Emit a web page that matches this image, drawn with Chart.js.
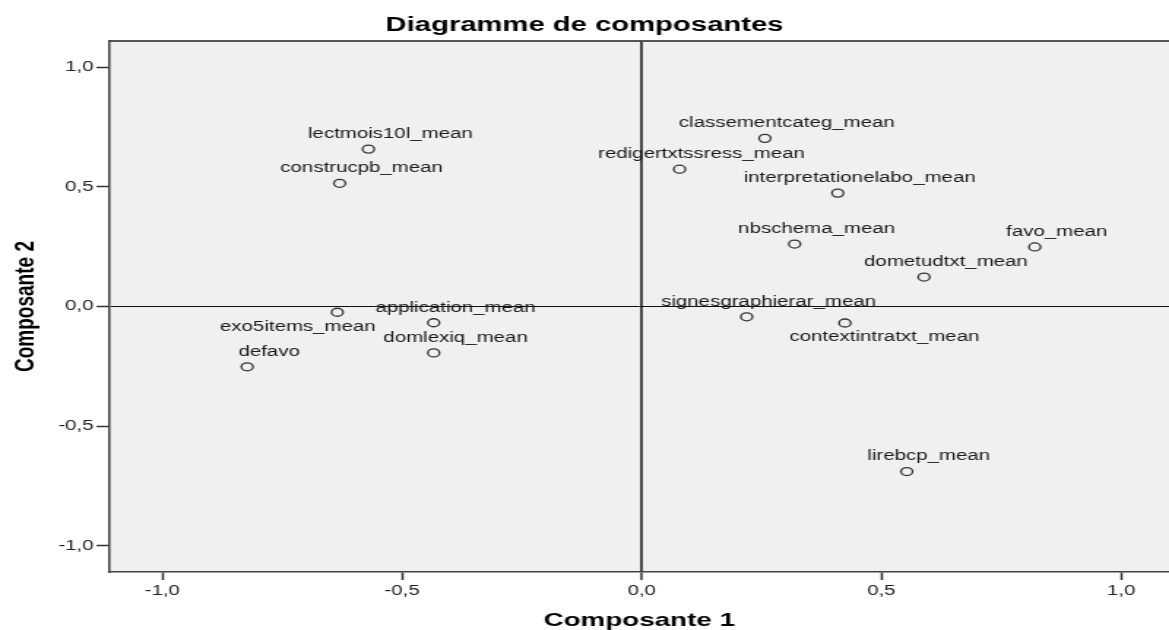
<!DOCTYPE html>
<html>
<head>
<meta charset="utf-8">
<script src="https://cdn.jsdelivr.net/npm/chart.js@4.4.1/dist/chart.umd.min.js"></script>
<style>
  html, body { margin: 0; padding: 0; background: #fff; overflow: hidden; }
  /* the SPSS export is stretched sideways, so draw narrow and widen */
  #wrap { position: absolute; left: 0; top: 0; width: 800px; height: 630px;
          transform: scaleX(1.46125); transform-origin: 0 0; }
</style>
</head>
<body>
<div id="wrap"><canvas id="chart"></canvas></div>
<script>
const variables = [
  'lectmois10l_mean', 'construcpb_mean', 'classementcateg_mean', 'redigertxtssress_mean',
  'interpretationelabo_mean', 'nbschema_mean', 'favo_mean', 'dometudtxt_mean',
  'signesgraphierar_mean', 'contextintratxt_mean', 'application_mean', 'domlexiq_mean',
  'exo5items_mean', 'defavo', 'lirebcp_mean'
];
const comp1 = [-0.570, -0.630, 0.257, 0.079, 0.409, 0.319, 0.820, 0.589, 0.219, 0.424, -0.434, -0.434, -0.635, -0.823, 0.553];
const comp2 = [0.658, 0.515, 0.703, 0.574, 0.474, 0.261, 0.249, 0.123, -0.043, -0.069, -0.068, -0.194, -0.024, -0.252, -0.690];
const tickValues = [-1, -0.5, 0, 0.5, 1];

// most labels sit above and a bit right of their point, these two go below
const labelShift = { exo5items_mean: [-27, 15], contextintratxt_mean: [27, 14] };

const fmt = v => v.toFixed(1).replace('.', ',');

const plotBg = {
  id: 'plotBg',
  beforeDraw(chart) {
    const { ctx, chartArea: a } = chart;
    ctx.save();
    ctx.fillStyle = '#f0f0f0';
    ctx.fillRect(a.left, a.top, a.right - a.left, a.bottom - a.top);
    ctx.strokeStyle = '#555';
    ctx.lineWidth = 2;
    ctx.beginPath();
    ctx.moveTo(a.left, a.top);
    ctx.lineTo(a.right, a.top);
    ctx.stroke();
    ctx.restore();
  }
};

const pointLabels = {
  id: 'pointLabels',
  afterDatasetsDraw(chart) {
    const ctx = chart.ctx;
    const meta = chart.getDatasetMeta(0);
    ctx.save();
    ctx.font = '14px "Liberation Sans", Arial, sans-serif';
    ctx.fillStyle = '#1a1a1a';
    ctx.textAlign = 'center';
    ctx.textBaseline = 'middle';
    meta.data.forEach((pt, i) => {
      const name = variables[i];
      const [dx, dy] = labelShift[name] || [15, -15];
      ctx.fillText(name, pt.x + dx, pt.y + dy);
    });
    ctx.restore();
  }
};

const zeroLine = (w, col) => ({
  color: c => c.tick && c.tick.value === 0 ? col : 'rgba(0,0,0,0)',
  lineWidth: c => c.tick && c.tick.value === 0 ? w : 1,
});

new Chart(document.getElementById('chart'), {
  type: 'scatter',
  data: {
    datasets: [{
      data: comp1.map((x, i) => ({ x: x, y: comp2[i] })),
      pointRadius: 4,
      pointHoverRadius: 4,
      borderWidth: 1.3,
      borderColor: '#333',
      backgroundColor: 'rgba(0,0,0,0)'
    }]
  },
  options: {
    responsive: true,
    maintainAspectRatio: false,
    animation: false,
    layout: { padding: 0, autoPadding: false },
    plugins: {
      legend: { display: false },
      tooltip: { enabled: false },
      title: {
        display: true,
        text: 'Diagramme de composantes',
        color: '#000',
        font: { family: '"Liberation Sans", Arial, sans-serif', size: 20, weight: 'bold' },
        padding: { top: 13, bottom: 4 }
      }
    },
    scales: {
      x: {
        type: 'linear',
        min: -1.11,
        max: 1.10,
        afterBuildTicks: s => { s.ticks = tickValues.map(v => ({ value: v })); },
        afterFit: s => { s.height = 58; s.paddingLeft = 0; s.paddingRight = 0; },
        ticks: {
          callback: fmt,
          color: '#222',
          padding: 3,
          maxRotation: 0,
          font: { family: '"Liberation Sans", Arial, sans-serif', size: 14 }
        },
        grid: Object.assign(zeroLine(2, '#484848'), { tickColor: '#333', tickWidth: 1.5, tickLength: 8 }),
        border: { color: '#444', width: 1.5 },
        title: {
          display: true,
          text: 'Composante 1',
          color: '#000',
          font: { family: '"Liberation Sans", Arial, sans-serif', size: 19, weight: 'bold', lineHeight: 1 },
          padding: { top: 0, bottom: 0 }
        }
      },
      y: {
        type: 'linear',
        min: -1.11,
        max: 1.11,
        afterBuildTicks: s => { s.ticks = tickValues.map(v => ({ value: v })); },
        afterFit: s => { s.width = 75; s.paddingTop = 0; s.paddingBottom = 0; },
        ticks: {
          callback: fmt,
          color: '#222',
          padding: 2,
          font: { family: '"Liberation Sans", Arial, sans-serif', size: 14 }
        },
        grid: Object.assign(zeroLine(1, '#111'), { tickColor: '#333', tickWidth: 1.5, tickLength: 9 }),
        border: { color: '#444', width: 1.5 },
        title: {
          display: true,
          text: 'Composante 2',
          color: '#000',
          font: { family: '"Liberation Sans", Arial, sans-serif', size: 19, weight: 'bold', lineHeight: 1 },
          padding: { top: 8, bottom: 0 }
        }
      }
    }
  },
  plugins: [plotBg, pointLabels]
});
</script>
</body>
</html>
